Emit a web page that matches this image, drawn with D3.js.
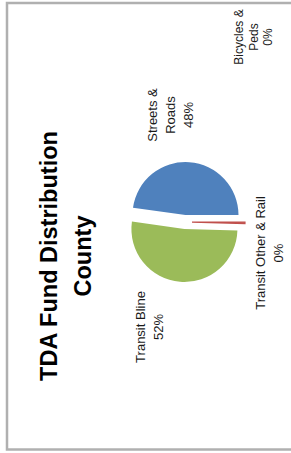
<!DOCTYPE html>
<html>
<head>
<meta charset="utf-8">
<script src="https://cdn.jsdelivr.net/npm/d3@7"></script>
<style>
  html, body { margin: 0; padding: 0; background: #fff; }
  svg { display: block; }
  text { font-family: "Liberation Sans", Arial, sans-serif; fill: #1a1a1a; }
</style>
</head>
<body>
<div id="chart"></div>
<script>
// chart data
const categories = ["Streets & Roads", "Transit Other & Rail", "Bicycles & Peds", "Transit Bline"];
const values = [48, 0.4, 0, 52];
const colors = ["#4f81bd", "#c0504d", "#8064a2", "#9bbb59"];
const titleLines = ["TDA Fund Distribution", "County"];

// label text lines per category (percent gets appended)
const labelLines = {
  "Streets & Roads": ["Streets &", "Roads"],
  "Transit Other & Rail": ["Transit Other & Rail"],
  "Bicycles & Peds": ["Bicycles &", "Peds"],
  "Transit Bline": ["Transit Bline"]
};

const width = 291, height = 453;

// the whole chart is printed turned a quarter turn counter-clockwise
const pieCenter = { x: 185, y: 222 };
const radius = 53;
const explode = 7;
const startAngle = -82 * Math.PI / 180;

// where excel dropped the data labels (centre of each label block, page coords)
const labelAnchor = {
  "Streets & Roads": { x: 157, y: 115, size: 13, lh: 18 },
  "Transit Other & Rail": { x: 265, y: 253, size: 13, lh: 18 },
  "Bicycles & Peds": { x: 243, y: 37, size: 12, lh: 14.5 },
  "Transit Bline": { x: 145, y: 327, size: 13, lh: 18 }
};

const svg = d3.select("#chart").append("svg")
  .attr("width", width)
  .attr("height", height);

// chart frame
svg.append("rect")
  .attr("x", 7)
  .attr("y", 3)
  .attr("width", 300)
  .attr("height", 446.5)
  .attr("fill", "none")
  .attr("stroke", "#b0b0b0")
  .attr("stroke-width", 2.5);

// title, rotated
const title = svg.append("text")
  .attr("transform", `translate(57,256) rotate(-90)`)
  .attr("text-anchor", "middle")
  .style("font-weight", "bold")
  .style("font-size", "23.5px")
  .style("fill", "#000");

title.selectAll("tspan")
  .data(titleLines)
  .enter()
  .append("tspan")
    .attr("x", 0)
    .attr("y", (d, i) => i * 34)
    .text(d => d);

// pie
const total = d3.sum(values);
const data = categories.map((c, i) => ({ name: c, value: values[i], color: colors[i] }));

const pie = d3.pie()
  .sort(null)
  .value(d => d.value)
  .startAngle(startAngle)
  .endAngle(startAngle + 2 * Math.PI);

const arc = d3.arc()
  .innerRadius(0)
  .outerRadius(radius);

const arcs = pie(data);

const pieGroup = svg.append("g")
  .attr("transform", `translate(${pieCenter.x},${pieCenter.y})`);

pieGroup.selectAll("path")
  .data(arcs.filter(d => d.data.value > 0))
  .enter()
  .append("path")
    .attr("d", arc)
    .attr("transform", d => {
      // pull every slice out a bit, like the exploded excel pie
      const mid = (d.startAngle + d.endAngle) / 2;
      return `translate(${Math.sin(mid) * explode},${-Math.cos(mid) * explode})`;
    })
    .attr("fill", d => d.data.color)
    .attr("stroke", d => d.data.value < 1 ? d.data.color : "none")
    .attr("stroke-width", d => d.data.value < 1 ? 1.2 : 0);

// data labels
const labels = svg.selectAll("g.label")
  .data(arcs)
  .enter()
  .append("g")
    .attr("class", "label")
    .attr("transform", d => {
      const a = labelAnchor[d.data.name];
      return `translate(${a.x},${a.y}) rotate(-90)`;
    });

labels.append("text")
  .attr("text-anchor", "middle")
  .style("font-size", d => labelAnchor[d.data.name].size + "px")
  .each(function(d) {
    const a = labelAnchor[d.data.name];
    const lines = labelLines[d.data.name].concat([Math.round(d.data.value / total * 100) + "%"]);
    d3.select(this).selectAll("tspan")
      .data(lines)
      .enter()
      .append("tspan")
        .attr("x", 0)
        .attr("y", (l, i) => i * a.lh)
        .text(l => l);
  });
</script>
</body>
</html>
